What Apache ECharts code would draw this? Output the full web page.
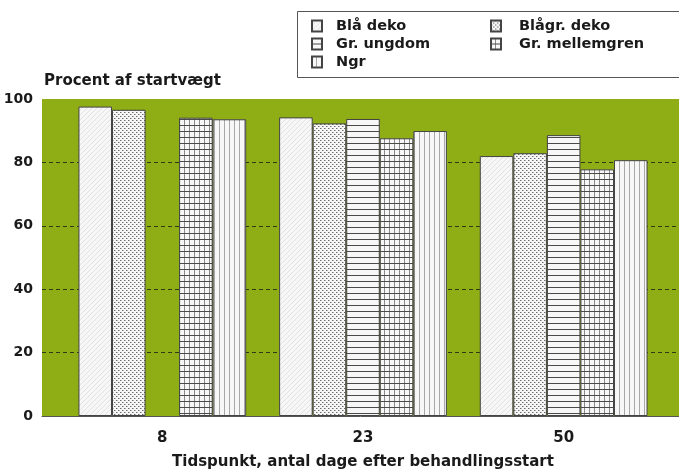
<!DOCTYPE html>
<html>
<head>
<meta charset="utf-8">
<script src="https://cdn.jsdelivr.net/npm/echarts@6/dist/echarts.min.js"></script>
<style>html,body{margin:0;padding:0;background:#fff;}#c{width:679px;height:470px;}</style>
</head>
<body>
<div id="c"></div>
<script>
const categories = ['8', '23', '50'];
const seriesNames = ['Blå deko', 'Blågr. deko', 'Gr. ungdom', 'Gr. mellemgren', 'Ngr'];
const blaDeko = [97.6, 94.2, 82.0];
const blagrDeko = [96.6, 92.3, 82.9];
const grUngdom = [null, 93.7, 88.6];
const grMellemgren = [94.1, 87.6, 77.8];
const ngr = [93.6, 89.9, 80.7];
const yTicks = [0, 20, 40, 60, 80, 100];

const FONT = 'DejaVu Sans';
const GREEN = '#8fad14';

function pattern(kind) {
  const c = document.createElement('canvas');
  let w = 6, h = 6;
  if (kind === 'diag') { w = 5; h = 5; }
  if (kind === 'dots') { w = 4; h = 4; }
  if (kind === 'horiz') { w = 6; h = 6; }
  if (kind === 'grid') { w = 5; h = 6; }
  if (kind === 'vert') { w = 5; h = 6; }
  c.width = w; c.height = h;
  const g = c.getContext('2d');
  g.fillStyle = '#f7f7f7';
  g.fillRect(0, 0, w, h);
  if (kind === 'diag') {
    g.fillStyle = '#e2e2e2';
    for (let i = 0; i < w; i++) g.fillRect(i, h - 1 - i, 1, 1);
  } else if (kind === 'dots') {
    g.fillStyle = '#6a6a6a';
    g.fillRect(0, 0, 1, 1);
    g.fillRect(2, 2, 1, 1);
    g.fillStyle = '#b5b5b5';
    g.fillRect(1, 0, 1, 1);
    g.fillRect(3, 2, 1, 1);
  } else if (kind === 'horiz') {
    g.fillStyle = '#4a4a4a';
    g.fillRect(0, 5, w, 1);
  } else if (kind === 'grid') {
    g.fillStyle = '#8a8a8a';
    g.fillRect(4, 0, 1, h);
    g.fillStyle = '#4a4a4a';
    g.fillRect(0, 5, w, 1);
  } else if (kind === 'vert') {
    g.fillStyle = '#a8a8a8';
    g.fillRect(4, 0, 1, h);
  }
  return { image: c, repeat: 'repeat' };
}

const patterns = [pattern('diag'), pattern('dots'), pattern('horiz'), pattern('grid'), pattern('vert')];
const values = [blaDeko, blagrDeko, grUngdom, grMellemgren, ngr];

const chart = echarts.init(document.getElementById('c'), null, { renderer: 'canvas' });

const series = seriesNames.map((name, i) => ({
  name: name,
  type: 'bar',
  xAxisIndex: 1,
  yAxisIndex: 1,
  data: values[i],
  barGap: '0%',
  barCategoryGap: '16.4%',
  itemStyle: { color: patterns[i], borderColor: '#444', borderWidth: 1 },
  emphasis: { disabled: true },
  z: 3
}));

const txt = { fontFamily: FONT, fontSize: 15, fontWeight: 'bold', color: '#1a1a1a' };

chart.setOption({
  animation: false,
  backgroundColor: '#fff',
  graphic: [{
    type: 'rect', left: 297, top: 11, z: 0,
    shape: { width: 400, height: 66 },
    style: { fill: '#fff', stroke: '#555', lineWidth: 1 }
  }],
  legend: [
    {
      data: ['Blå deko', 'Gr. ungdom', 'Ngr'],
      orient: 'vertical', left: 311, top: 17, padding: 0, itemWidth: 10, itemHeight: 11, itemGap: 0,
      icon: 'rect', textStyle: Object.assign({}, txt, { fontSize: 14.5, lineHeight: 18, padding: [0, 0, 0, 9] }),
      selectedMode: false, z: 5
    },
    {
      data: ['Blågr. deko', 'Gr. mellemgren'],
      orient: 'vertical', left: 490, top: 17, padding: 0, itemWidth: 10, itemHeight: 11, itemGap: 0,
      icon: 'rect', textStyle: Object.assign({}, txt, { fontSize: 14.5, lineHeight: 18, padding: [0, 0, 0, 13] }),
      selectedMode: false, z: 5
    }
  ],
  grid: [
    { left: 42, right: 0, top: 99, bottom: 54, show: true, backgroundColor: GREEN, borderWidth: 0, containLabel: false, outerBoundsMode: 'none' },
    { left: 62, right: 15, top: 99, bottom: 54, containLabel: false, outerBoundsMode: 'none' }
  ],
  xAxis: [
    {
      type: 'category', gridIndex: 0, data: categories,
      axisLine: { show: true, lineStyle: { color: '#555', width: 1 } },
      axisTick: { show: false }, axisLabel: { show: false }, splitLine: { show: false }
    },
    {
      type: 'category', gridIndex: 1, data: categories,
      axisLine: { show: false }, axisTick: { show: false },
      axisLabel: Object.assign({}, txt, { margin: 15 }),
      name: 'Tidspunkt, antal dage efter behandlingsstart',
      nameLocation: 'middle', nameGap: 39,
      nameTextStyle: txt
    }
  ],
  yAxis: [
    {
      type: 'value', gridIndex: 0, min: yTicks[0], max: yTicks[yTicks.length - 1], interval: 20,
      axisLine: { show: false }, axisTick: { show: false },
      axisLabel: Object.assign({}, txt, { fontSize: 14, margin: 9 }),
      splitLine: { show: true, showMinLine: false, showMaxLine: false, lineStyle: { color: '#2e3a10', type: [4, 3], width: 1 } },
      name: 'Procent af startvægt', nameLocation: 'end', nameGap: 10,
      nameTextStyle: Object.assign({}, txt, { align: 'left', padding: [0, 0, 0, 2] })
    },
    {
      type: 'value', gridIndex: 1, min: 0, max: 100, interval: 20, show: false,
      splitLine: { show: false }
    }
  ],
  series: series
});
</script>
</body>
</html>
